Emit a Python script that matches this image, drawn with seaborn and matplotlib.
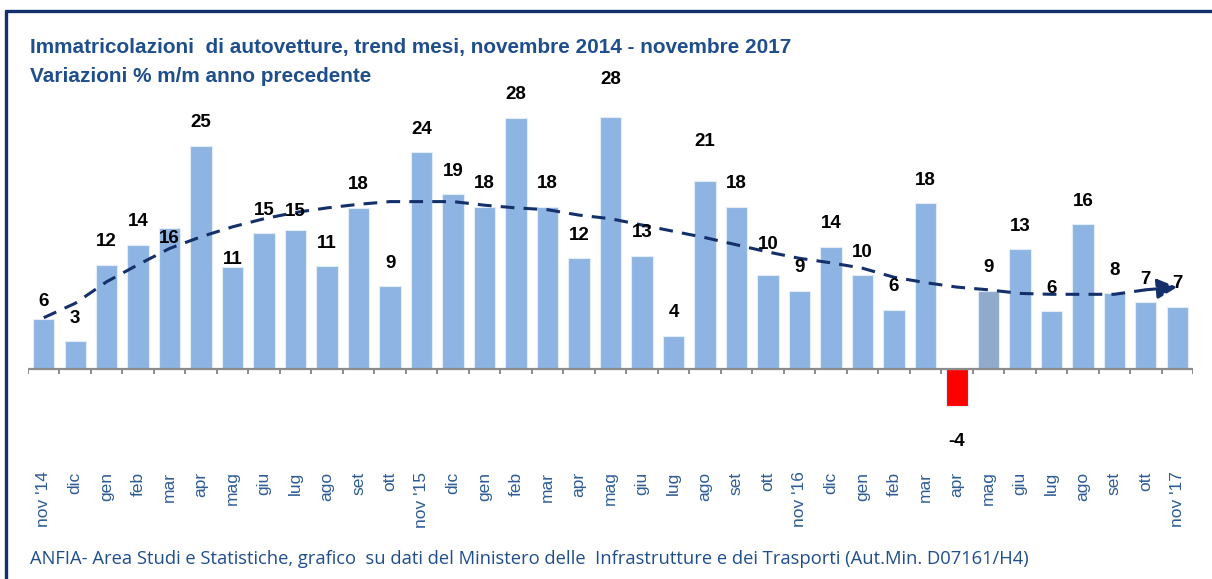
import numpy as np
import pandas as pd
import matplotlib
matplotlib.use("Agg")
import matplotlib.pyplot as plt
from matplotlib import font_manager
from matplotlib.lines import Line2D
import seaborn as sns

# ---------------- data ----------------
periods = ["2014-11", "2014-12", "2015-01", "2015-02", "2015-03", "2015-04", "2015-05",
           "2015-06", "2015-07", "2015-08", "2015-09", "2015-10", "2015-11", "2015-12",
           "2016-01", "2016-02", "2016-03", "2016-04", "2016-05", "2016-06", "2016-07",
           "2016-08", "2016-09", "2016-10", "2016-11", "2016-12", "2017-01", "2017-02",
           "2017-03", "2017-04", "2017-05", "2017-06", "2017-07", "2017-08", "2017-09",
           "2017-10", "2017-11"]
tick_labels = ["nov '14", "dic", "gen", "feb", "mar", "apr", "mag", "giu", "lug", "ago",
               "set", "ott", "nov '15", "dic", "gen", "feb", "mar", "apr", "mag", "giu",
               "lug", "ago", "set", "ott", "nov '16", "dic", "gen", "feb", "mar", "apr",
               "mag", "giu", "lug", "ago", "set", "ott", "nov '17"]
values = [5.6, 3.1, 11.6, 13.8, 15.7, 24.8, 11.3, 15.1, 15.4, 11.4, 17.9, 9.2, 24.1, 19.4,
          18.0, 27.9, 18.0, 12.3, 28.0, 12.6, 3.7, 20.9, 18.0, 10.4, 8.7, 13.6, 10.4, 6.6,
          18.4, -4.1, 8.7, 13.3, 6.4, 16.1, 8.4, 7.4, 6.9]
value_labels = ["6", "3", "12", "14", "16", "25", "11", "15", "15", "11", "18", "9", "24",
                "19", "18", "28", "18", "12", "28", "13", "4", "21", "18", "10", "9", "14",
                "10", "6", "18", "-4", "9", "13", "6", "16", "8", "7", "7"]
trend = [5.7, 7.3, 9.7, 11.6, 13.4, 14.7, 15.8, 16.7, 17.4, 17.9, 18.3, 18.6, 18.6, 18.6,
         18.2, 17.9, 17.7, 17.1, 16.7, 16.0, 15.3, 14.6, 13.8, 13.0, 12.3, 11.8, 11.2, 10.2,
         9.6, 9.1, 8.8, 8.4, 8.3, 8.3, 8.3, 8.8, 9.1]

title_line1 = "Immatricolazioni  di autovetture, trend mesi, novembre 2014 - novembre 2017"
title_line2 = "Variazioni % m/m anno precedente"
footer = ("ANFIA- Area Studi e Statistiche, grafico  su dati del Ministero delle  "
          "Infrastrutture e dei Trasporti (Aut.Min. D07161/H4)")

# ---------------- style ----------------
BLUE = "#8DB4E2"
GREYBLUE = "#8FAACB"
RED = "#FF0000"
NAVY_TXT = "#1F4E8C"
TICK_TXT = "#2E5C94"
LINE_NAVY = "#14306A"
FRAME = "#13306E"

sns.set_theme(style="white")
avail = {f.name for f in font_manager.fontManager.ttflist}
narrow = "Liberation Sans Narrow" if "Liberation Sans Narrow" in avail else "Liberation Sans"
plt.rcParams["font.family"] = ["Liberation Sans", "DejaVu Sans"]

W, H, DPI = 1212, 579, 100
fig = plt.figure(figsize=(W / DPI, H / DPI), dpi=DPI)
fig.patch.set_facecolor("white")

# axes placed in pixel terms: x from 28 to 1193, y data -8..30 -> px 441..99
ax = fig.add_axes([28 / W, (H - 441) / H, (1193 - 28) / W, 342 / H])
ax.set_facecolor("none")

colors = {p: BLUE for p in periods}
colors["2017-04"] = RED
colors["2017-05"] = GREYBLUE

df = pd.DataFrame({"period": periods, "value": values})
sns.barplot(data=df, x="period", y="value", hue="period", palette=colors, order=periods,
            hue_order=periods, width=0.68, legend=False, ax=ax, saturation=1,
            edgecolor="#E4ECF6", linewidth=0.8)

idx = np.arange(len(periods))
sns.lineplot(x=idx[:-1], y=trend[:-1], ax=ax, color=LINE_NAVY, linewidth=2.2,
             linestyle=(0, (4.5, 3)), legend=False)
ax.annotate("", xy=(idx[-1], trend[-1]), xytext=(idx[-2], trend[-2]),
            arrowprops=dict(arrowstyle="-|>,head_length=1.0,head_width=0.5",
                            color=LINE_NAVY, lw=2.2, linestyle="--",
                            shrinkA=0, shrinkB=0))

ax.set_xlim(-0.5, len(periods) - 0.5)
ax.set_ylim(-8, 30)
for s in ax.spines.values():
    s.set_visible(False)
ax.set_yticks([])
ax.set_xlabel("")
ax.set_ylabel("")

# baseline and boundary tick marks
ax.axhline(0, color="#8C8C8C", lw=1.6, zorder=3)
ax.vlines(np.arange(-0.5, len(periods)), -0.6, 0, color="#8C8C8C", lw=1.4, zorder=3)

ax.set_xticks(idx)
ax.set_xticklabels(tick_labels, rotation=90, va="top", ha="center",
                   color=TICK_TXT, fontsize=12.5, fontfamily=["Liberation Sans", "DejaVu Sans"])
ax.tick_params(axis="x", length=0, pad=22)

# value labels (pixel offsets of label centres from bar end; negative = above)
PX = 72 / DPI
special = {4: 11, 6: -8, 0: -17, 8: -19, 18: -38, 21: -39, 23: -31}
for i, (v, lab) in enumerate(zip(values, value_labels)):
    if v < 0:
        off = 36
    else:
        off = special.get(i, -23)
    ax.annotate(lab, (i, v), xytext=(0, -off * PX), textcoords="offset points",
                ha="center", va="center", fontsize=13.5, fontweight="bold",
                color="black", fontfamily=[narrow, "DejaVu Sans"], zorder=5)

# titles
t1 = fig.text(30 / W, 1 - 47 / H, title_line1, ha="left", va="center", fontsize=15,
              fontweight="bold", color=NAVY_TXT, fontfamily=[narrow, "DejaVu Sans"])
t2 = fig.text(30 / W, 1 - 76 / H, title_line2, ha="left", va="center", fontsize=15,
              fontweight="bold", color=NAVY_TXT, fontfamily=[narrow, "DejaVu Sans"])
ft = fig.text(30 / W, 1 - 559 / H, footer, ha="left", va="center", fontsize=11.5,
              color=NAVY_TXT, fontfamily=["Open Sans", "DejaVu Sans"])

# fit text widths to the reference extents
fig.canvas.draw()
r = fig.canvas.get_renderer()
for txt, target in ((t1, 765), (ft, 1000)):
    w = txt.get_window_extent(r).width
    txt.set_fontsize(txt.get_fontsize() * target / w)
t2.set_fontsize(t1.get_fontsize())

# frame lines (top and left)
fig.add_artist(Line2D([6 / W, 1.0], [1 - 11 / H, 1 - 11 / H], transform=fig.transFigure,
                      color=FRAME, lw=2.4))
fig.add_artist(Line2D([6 / W, 6 / W], [0, 1 - 11 / H], transform=fig.transFigure,
                      color=FRAME, lw=2.4))

fig.savefig("out.png", dpi=DPI, facecolor="white")
